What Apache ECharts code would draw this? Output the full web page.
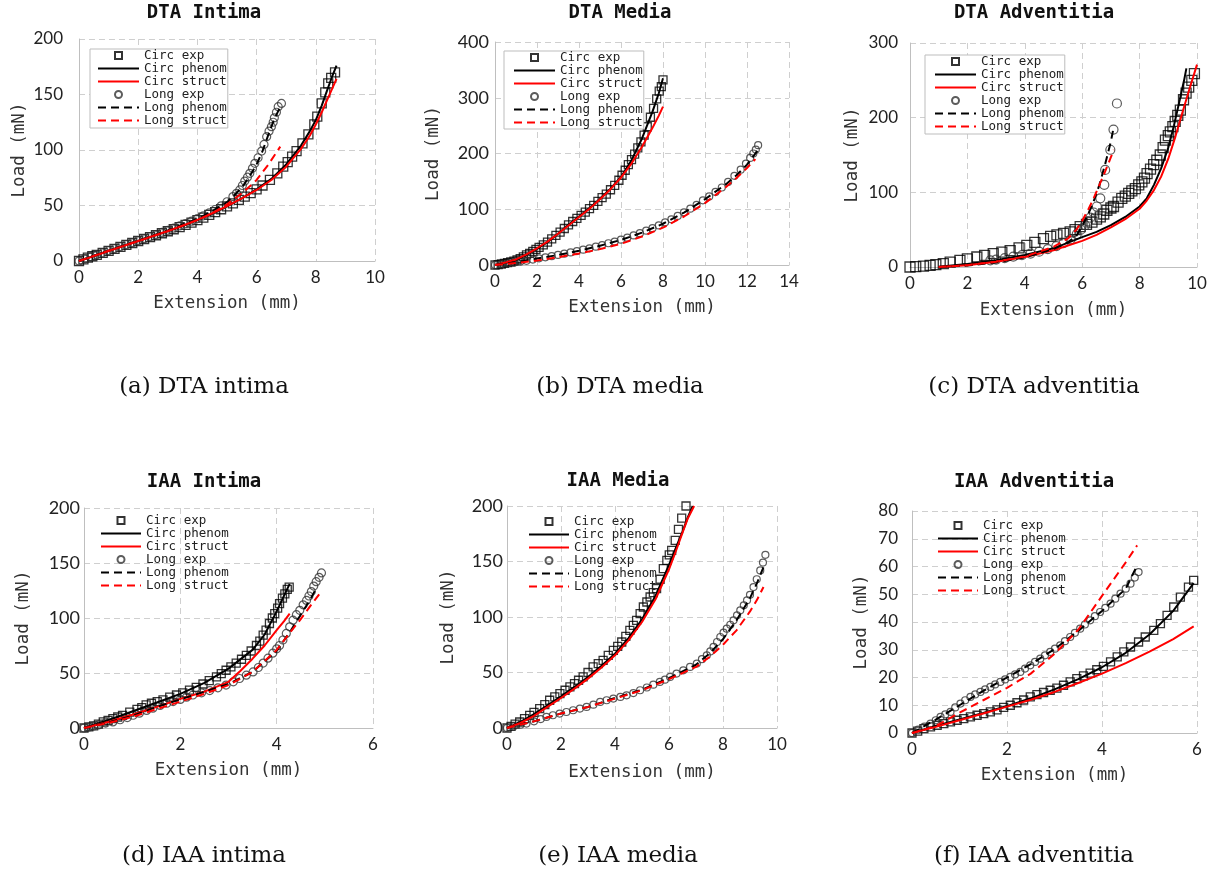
<!DOCTYPE html>
<html><head><meta charset="utf-8">
<script src="https://cdn.jsdelivr.net/npm/echarts@6/dist/echarts.min.js"></script>
<style>html,body{margin:0;padding:0;background:#fff}#c{width:1219px;height:877px}</style>
</head><body><div id="c"></div>
<script>
// ---------- DATA (Extension mm, Load mN) ----------
// (a) DTA Intima
const aCircExp = [[0,0],[0.15,1.5],[0.3,3],[0.45,4.3],[0.6,5.6],[0.8,7.4],[1.0,9.2],[1.2,11],[1.4,12.8],[1.6,14.5],[1.8,16.2],[2.0,18],[2.2,19.8],[2.4,21.5],[2.6,23.2],[2.8,25],[3.0,26.8],[3.2,28.6],[3.4,30.5],[3.6,32.5],[3.8,34.6],[4.0,36.8],[4.2,39.1],[4.4,41.5],[4.6,44],[4.8,46.6],[5.0,49.3],[5.2,52],[5.4,55],[5.6,58],[5.8,61.2],[6.0,64.5],[6.2,68],[6.45,73],[6.7,79],[6.9,85],[7.05,89],[7.2,94],[7.35,99],[7.55,106],[7.75,114],[7.95,123],[8.05,130],[8.2,142],[8.32,152],[8.42,160],[8.52,165],[8.65,170]];
const aCircPhenom = [[0,0],[0.5,4.6],[1,9.2],[1.5,13.7],[2,18],[2.5,22.4],[3,26.8],[3.5,31.5],[4,36.8],[4.5,42.7],[5,49.3],[5.5,56.5],[6,64.5],[6.5,74],[7,87],[7.5,104],[7.8,117],[8,127],[8.2,140],[8.4,155],[8.55,166],[8.7,176]];
const aCircStruct = [[0,0],[0.5,4.4],[1,9],[1.5,13.5],[2,18],[2.5,22.5],[3,27],[3.5,31.8],[4,37],[4.5,43],[5,49.5],[5.5,56.5],[6,64],[6.5,73],[7,85],[7.5,101],[7.8,113],[8,123],[8.2,134],[8.4,146],[8.55,155],[8.7,164]];
const aLongExp = [[0,0],[0.2,2],[0.4,3.8],[0.6,5.6],[0.8,7.4],[1.0,9.3],[1.2,11.1],[1.4,12.9],[1.6,14.7],[1.8,16.5],[2.0,18.3],[2.2,20.1],[2.4,22],[2.6,23.8],[2.8,25.7],[3.0,27.6],[3.2,29.6],[3.4,31.6],[3.6,33.7],[3.8,35.9],[4.0,38.2],[4.2,40.7],[4.4,43.4],[4.6,46.4],[4.8,49.7],[5.0,53.4],[5.2,58],[5.32,61],[5.43,64],[5.52,68],[5.6,72],[5.69,75.5],[5.77,79],[5.86,83.5],[5.94,88],[6.05,93],[6.17,99],[6.25,105],[6.34,112],[6.42,117],[6.5,121],[6.56,125],[6.6,129],[6.67,134],[6.73,139],[6.84,142]];
const aLongPhenom = [[0,0],[1,9.3],[2,18.3],[3,27.6],[4,38],[4.5,45],[5,53],[5.5,66],[5.8,78],[6,87],[6.2,99],[6.4,114],[6.6,128],[6.84,141]];
const aLongStruct = [[0,0],[1,9.2],[2,18],[3,27],[4,37],[4.5,43],[5,51],[5.5,61],[5.8,68],[6.0,73],[6.2,80],[6.4,87],[6.6,95],[6.8,103]];

// (b) DTA Media
const bCircExp = [[0,0],[0.15,0.8],[0.3,1.8],[0.45,3],[0.6,4.2],[0.75,5.5],[0.9,7],[1.05,9],[1.2,11.5],[1.35,14.5],[1.5,18],[1.65,21],[1.8,24.5],[1.95,28],[2.1,31.5],[2.3,36],[2.5,41],[2.7,47],[2.9,53],[3.1,59],[3.3,65.5],[3.5,72],[3.7,78],[3.9,83.5],[4.1,89],[4.3,95],[4.5,101],[4.7,107],[4.9,114],[5.1,121],[5.3,127],[5.5,135],[5.7,143],[5.9,152],[6.05,161],[6.2,170],[6.35,180],[6.5,189],[6.65,199],[6.8,210],[6.95,221],[7.1,233],[7.25,248],[7.4,265],[7.55,281],[7.7,298],[7.82,312],[7.92,320],[8.0,332]];
const bCircPhenom = [[0,0],[0.5,4],[1,9],[1.5,18],[2,29],[2.5,41],[3,56],[3.5,72],[4,87],[4.5,102],[5,119],[5.5,137],[6,158],[6.5,188],[7,227],[7.5,275],[7.8,308],[8.0,335]];
const bCircStruct = [[0,0],[0.5,4.5],[1,10],[1.5,19],[2,30],[2.5,42],[3,56],[3.5,71],[4,86],[4.5,101],[5,118],[5.5,136],[6,157],[6.5,182],[7,212],[7.5,246],[7.8,268],[8.0,284]];
const bLongExp = [[0,0],[0.3,1.2],[0.6,2.6],[0.9,4.2],[1.2,5.8],[1.5,7.5],[1.8,9.8],[2.1,12],[2.4,13.8],[2.7,15.8],[3.0,18],[3.3,20.3],[3.6,22.6],[3.9,25],[4.2,27.5],[4.5,30],[4.8,32.8],[5.1,35.8],[5.4,39],[5.7,42],[6.0,45.5],[6.3,49],[6.6,53],[6.9,57],[7.2,61.5],[7.5,66],[7.8,71],[8.1,76.5],[8.4,82],[8.7,88],[9.0,94.5],[9.3,101],[9.6,108],[9.9,116],[10.2,123],[10.5,131],[10.8,139],[11.1,149],[11.4,160],[11.7,171],[11.95,182],[12.15,192],[12.3,200],[12.42,207],[12.53,215]];
const bLongPhenom = [[0,0],[1,5],[2,11.5],[3,18],[4,25.5],[5,34.5],[6,45],[7,58],[8,74],[9,94],[10,118],[11,145],[11.5,161],[12,180],[12.5,205]];
const bLongStruct = [[0,0],[1,3.5],[2,8],[3,14],[4,20.5],[5,28.5],[6,38],[7,51],[8,67],[9,87],[10,111],[11,140],[11.5,156],[12,174],[12.4,190]];

// (c) DTA Adventitia
const cCircExp = [[0,0],[0.2,0.5],[0.47,1.3],[0.7,2.3],[0.9,3.3],[1.16,4.5],[1.4,6.5],[1.74,9],[2.0,10.8],[2.33,13.4],[2.6,15.5],[2.9,18],[3.2,20],[3.49,22],[3.8,25.5],[4.07,29],[4.35,33],[4.65,38],[4.9,41],[5.12,43],[5.35,45],[5.58,47],[5.75,50],[5.93,54],[6.15,57],[6.34,60],[6.5,64],[6.63,67],[6.75,71],[6.86,76],[7.0,79],[7.09,81],[7.25,87],[7.38,92],[7.5,95],[7.62,98.5],[7.73,102],[7.85,105],[7.97,110],[8.08,114],[8.17,119],[8.26,125],[8.38,131],[8.49,137],[8.6,143],[8.72,150],[8.82,160],[8.9,170],[9.0,176],[9.07,181],[9.16,188],[9.24,195],[9.33,203],[9.42,210],[9.53,224],[9.62,233],[9.71,241],[9.82,250],[9.91,259]];
const cCircPhenom = [[1,0.5],[2,4],[3,9],[4,16],[5,25],[6,40],[6.5,47],[7,56],[7.5,67],[8,81],[8.25,92],[8.5,110],[8.75,132],[9.0,160],[9.2,190],[9.4,224],[9.55,250],[9.63,266]];
const cCircStruct = [[1,0],[2,2.5],[3,7],[4,13.5],[5,22.5],[6,35],[6.5,43],[7,53],[7.5,64],[8,78],[8.25,89],[8.5,103],[8.75,121],[9.0,145],[9.25,175],[9.5,208],[9.75,240],[10.0,271]];
const cLongExp = [[2.8,9],[3.0,10],[3.3,12],[3.6,14],[3.9,16],[4.2,18],[4.5,20.5],[4.8,24],[5.1,28],[5.35,32],[5.6,37],[5.81,44],[5.95,50],[6.1,56],[6.2,61],[6.28,66],[6.4,73],[6.51,81],[6.63,92],[6.77,110],[6.8,130],[6.98,157],[7.09,184],[7.21,219]];
const cLongPhenom = [[1,0],[2,2],[3,6],[4,13],[5,24],[5.5,33],[5.8,42],[6.0,55],[6.2,70],[6.4,88],[6.6,110],[6.8,138],[7.0,168],[7.1,188]];
const cLongStruct = [[1,0],[2,2.5],[3,7],[4,14],[5,27],[5.5,38],[5.8,50],[6.0,62],[6.2,76],[6.4,92],[6.6,110],[6.8,128],[7.0,147],[7.1,157]];

// (d) IAA Intima
const dCircExp = [[0,0],[0.1,1],[0.2,2],[0.3,3.5],[0.4,5.5],[0.5,7],[0.6,8.5],[0.7,10],[0.8,11.5],[0.95,14.5],[1.1,17],[1.2,18.5],[1.29,21],[1.4,22.5],[1.52,24],[1.64,25.5],[1.78,28],[1.92,30],[2.05,32],[2.19,34.5],[2.33,37],[2.47,40],[2.6,43],[2.75,46.5],[2.85,49.5],[2.95,52.5],[3.05,55.5],[3.16,59],[3.27,62.5],[3.37,66],[3.47,70],[3.58,75],[3.65,79],[3.72,84.5],[3.78,89],[3.85,95],[3.91,100],[3.96,104],[4.02,109],[4.06,113],[4.12,118],[4.17,122],[4.22,126],[4.26,128]];
const dCircPhenom = [[0,0],[0.5,7],[1,15],[1.5,23],[2,31],[2.5,41],[3,54],[3.5,71],[3.75,85],[4.0,106],[4.15,120],[4.27,131]];
const dCircStruct = [[0,0],[0.5,5.5],[1,12],[1.5,19],[2,26.5],[2.5,33],[3,42],[3.25,52],[3.5,63],[3.75,75],[4.0,89],[4.15,97],[4.27,104]];
const dLongExp = [[0,0],[0.1,0.8],[0.2,1.8],[0.3,2.8],[0.45,4.5],[0.6,5.5],[0.75,7.5],[0.9,9.5],[1.02,11.6],[1.15,13.5],[1.3,16],[1.43,18],[1.58,20.5],[1.72,22.5],[1.85,24],[2.0,26],[2.13,28],[2.26,30],[2.44,32],[2.61,34],[2.78,36.5],[2.95,39],[3.1,42],[3.23,45],[3.37,48],[3.51,51],[3.62,55],[3.72,59],[3.82,63.5],[3.92,68],[4.0,72],[4.06,75],[4.13,80],[4.2,86],[4.27,92],[4.34,98],[4.41,103],[4.48,107],[4.55,112],[4.62,116],[4.67,120],[4.72,124],[4.77,129],[4.82,133],[4.88,137],[4.93,141]];
const dLongPhenom = [[0,0],[0.5,5],[1,11],[1.5,19],[2,26],[2.5,33],[3,40],[3.5,51],[4,70],[4.3,89],[4.5,103],[4.7,117],[4.82,127]];
const dLongStruct = [[0,0],[0.5,4.5],[1,10],[1.5,17],[2,24],[2.5,31],[3,39],[3.5,51],[4,71],[4.3,88],[4.5,99],[4.7,111],[4.89,122]];

// (e) IAA Media
const eCircExp = [[0,0],[0.15,1.5],[0.3,3.5],[0.47,5.4],[0.65,8.4],[0.84,11.4],[1.0,14],[1.21,17.4],[1.4,21],[1.58,25],[1.77,28],[1.96,31],[2.15,34],[2.33,37],[2.5,40],[2.65,43],[2.82,46],[3.0,50],[3.19,55],[3.38,58],[3.56,61],[3.75,65.5],[3.94,70],[4.1,73.5],[4.25,77.5],[4.4,82.5],[4.55,88],[4.68,92.5],[4.8,97],[4.93,103],[5.05,109],[5.18,113.5],[5.3,118],[5.42,122],[5.54,125.5],[5.67,134],[5.79,143.5],[5.92,151],[6.01,156],[6.1,160],[6.23,169],[6.35,179],[6.47,189],[6.63,200]];
const eCircPhenom = [[0,0],[0.5,5.5],[1,12.5],[1.5,20.5],[2,28.5],[2.5,37],[3,46],[3.5,56],[4,67],[4.5,81],[5,98],[5.5,119],[6,147],[6.25,162],[6.5,177],[6.7,190],[6.88,200]];
const eCircStruct = [[0,0],[0.5,4.5],[1,11],[1.5,19],[2,27],[2.5,35.5],[3,44.5],[3.5,54.5],[4,65.5],[4.5,79],[5,95.5],[5.5,116],[6,143],[6.25,159],[6.5,176],[6.7,189],[6.93,200]];
const eLongExp = [[0,0],[0.25,1.5],[0.5,3],[0.72,4],[1.0,6],[1.25,8],[1.46,10],[1.7,11.5],[1.95,13],[2.2,14.4],[2.45,16],[2.7,17.5],[2.95,19],[3.2,21],[3.45,23.5],[3.69,25],[3.94,26.5],[4.2,28],[4.43,29.4],[4.68,31.5],[4.93,34],[5.18,36.5],[5.42,39],[5.66,41.5],[5.85,43.5],[6.04,46],[6.28,49],[6.53,52],[6.78,55],[7.03,58],[7.22,62],[7.4,65.5],[7.53,69],[7.65,73],[7.78,77.5],[7.9,82],[8.02,86],[8.14,89.5],[8.27,93],[8.39,97],[8.52,101.5],[8.64,106],[8.77,110.5],[8.89,115],[9.0,120],[9.13,127],[9.25,134],[9.38,142],[9.48,149],[9.57,156]];
const eLongPhenom = [[0,0],[1,6],[2,13],[3,19],[4,27],[5,34.5],[6,45],[6.5,51],[7,57],[7.5,67],[8,80],[8.5,97],[9,117],[9.25,130],[9.5,145]];
const eLongStruct = [[0,0],[1,6],[2,13],[3,19],[4,26.5],[5,34],[6,44],[6.5,49.5],[7,55],[7.5,64],[8,75],[8.5,88],[9,105],[9.25,115],[9.5,127]];

// (f) IAA Adventitia
const fCircExp = [[0,0],[0.12,0.7],[0.25,1.6],[0.39,2.2],[0.53,2.8],[0.67,3.4],[0.81,4],[0.95,4.6],[1.09,5.2],[1.23,5.8],[1.37,6.4],[1.51,7],[1.65,7.6],[1.79,8.3],[1.93,9.2],[2.07,10],[2.21,10.9],[2.35,11.9],[2.49,13],[2.63,13.8],[2.77,14.6],[2.91,15.4],[3.05,16.2],[3.19,17.2],[3.33,18.4],[3.47,19.6],[3.61,20.6],[3.75,21.6],[3.89,22.8],[4.03,24],[4.18,25.6],[4.32,27.4],[4.46,29.2],[4.6,31],[4.77,32.8],[4.91,34.6],[5.09,37],[5.23,39.4],[5.37,42.4],[5.51,45.4],[5.65,49],[5.82,52.6],[5.93,55]];
const fCircPhenom = [[0,0],[0.5,2.5],[1,4.9],[1.5,7.2],[2,9.7],[2.5,12.5],[3,15.7],[3.5,19.4],[4,23.7],[4.5,28.9],[5,35.5],[5.5,44],[5.93,54]];
const fCircStruct = [[0,0],[0.5,2.2],[1,4.6],[1.5,7],[2,9.5],[2.5,12],[3,14.8],[3.5,18],[4,21.4],[4.5,25.2],[5,29.3],[5.5,33.8],[5.93,38.4]];
const fLongExp = [[0,0],[0.13,1.2],[0.26,2.3],[0.39,3.4],[0.5,4.6],[0.6,5.8],[0.7,6.7],[0.81,7.6],[0.91,9.2],[1.02,10.6],[1.12,11.8],[1.23,13],[1.33,13.9],[1.44,14.8],[1.54,15.7],[1.65,16.6],[1.75,17.5],[1.86,18.4],[1.96,19.3],[2.07,20.2],[2.17,21.1],[2.28,22],[2.38,23.2],[2.49,24.4],[2.59,25.6],[2.7,26.8],[2.8,28],[2.91,29.2],[3.01,30.4],[3.12,31.6],[3.22,33.1],[3.33,34.6],[3.43,36.1],[3.54,37.6],[3.64,39.1],[3.75,40.6],[3.85,42.1],[3.96,43.6],[4.07,45.1],[4.18,46.6],[4.28,48.4],[4.39,50.2],[4.5,52],[4.6,53.8],[4.69,56],[4.77,58]];
const fLongPhenom = [[0,0],[0.5,4.8],[1,10],[1.5,15.2],[2,20],[2.5,24.8],[3,30.2],[3.5,36.8],[4,44],[4.5,52],[4.74,60.4]];
const fLongStruct = [[0,0],[0.5,2.5],[1,7.3],[1.5,11.8],[2,16.3],[2.5,21.4],[3,28.5],[3.5,37.2],[4,49.4],[4.5,61.5],[4.74,67.6]];

const seriesNames = ['Circ exp','Circ phenom','Circ struct','Long exp','Long phenom','Long struct'];
const panelTitles = ['DTA Intima','DTA Media','DTA Adventitia','IAA Intima','IAA Media','IAA Adventitia'];
const panelCaptions = ['(a) DTA intima','(b) DTA media','(c) DTA adventitia','(d) IAA intima','(e) IAA media','(f) IAA adventitia'];
const xMaxes = [10,14,10,6,10,6];
const yMaxes = [200,400,300,200,200,80];
const yIntervals = [50,100,100,50,50,10];
const panelData = [
  [aCircExp,aCircPhenom,aCircStruct,aLongExp,aLongPhenom,aLongStruct],
  [bCircExp,bCircPhenom,bCircStruct,bLongExp,bLongPhenom,bLongStruct],
  [cCircExp,cCircPhenom,cCircStruct,cLongExp,cLongPhenom,cLongStruct],
  [dCircExp,dCircPhenom,dCircStruct,dLongExp,dLongPhenom,dLongStruct],
  [eCircExp,eCircPhenom,eCircStruct,eLongExp,eLongPhenom,eLongStruct],
  [fCircExp,fCircPhenom,fCircStruct,fLongExp,fLongPhenom,fLongStruct]
];

// ---------- LAYOUT ----------
const layout = [
  {grid:{left:79,top:39,width:296,height:222}, tx:204, ty:13, cy:387, yGap:51, xGap:33, yLM:16, yLS:17, sq:9, ci:8,
   lg:{left:90,top:49,lh:12,box:true,iw:41,pad:[0,1,1,7]}},
  {grid:{left:495,top:42,width:294,height:223}, tx:620, ty:13, cy:387, yGap:53, xGap:33, yLM:6, yLS:18, sq:8, ci:7,
   lg:{left:504,top:51,lh:11,box:true,iw:41,pad:[0,1,0,9]}},
  {grid:{left:910,top:43,width:287,height:224}, tx:1034, ty:13, cy:387, yGap:49, xGap:34, yLM:12, yLS:17, sq:10, ci:9,
   lg:{left:925,top:55,lh:12,box:true,iw:41,pad:[0,1,1,9]}},
  {grid:{left:84,top:508,width:289,height:220}, tx:204, ty:482, cy:856, yGap:52, xGap:33, yLM:4, yLS:18, sq:8, ci:8,
   lg:{left:100,top:514,lh:11.3,box:false,iw:40,pad:[0,0,0,0]}},
  {grid:{left:507,top:506,width:270,height:222}, tx:618, ty:481, cy:856, yGap:50, xGap:35, yLM:4, yLS:18, sq:8, ci:7,
   lg:{left:528,top:515,lh:11.15,box:false,iw:40,pad:[0,0,0,0]}},
  {grid:{left:912,top:511,width:285,height:222}, tx:1034, ty:482, cy:856, yGap:42, xGap:33, yLM:14, yLS:17, sq:8, ci:7,
   lg:{left:937,top:519,lh:12.4,box:false,iw:40,pad:[0,0,0,0]}}
];

const MONO = '"DejaVu Sans Mono", "Liberation Mono", monospace';
const SQUARE = 'path://M0,0L10,0L10,10L0,10Z';
const CLEAR = 'rgba(255,255,255,0)';
const splitStyle = {color:'#cfcfcf', width:1, type:[6,4]};
const grids=[], xAxes=[], yAxes=[], series=[], legends=[], graphics=[];

layout.forEach((L, i) => {
  grids.push(Object.assign({outerBoundsMode:'none', containLabel:false}, L.grid));
  xAxes.push({
    type:'value', gridIndex:i, min:0, max:xMaxes[i], interval:2,
    name:'Extension (mm)', nameLocation:'middle', nameGap:L.xGap,
    nameTextStyle:{fontFamily:MONO, fontSize:17.5, color:'#333'},
    axisLine:{show:true, onZero:false, lineStyle:{color:'#bfbfbf', width:1}},
    axisTick:{show:false},
    axisLabel:{margin:8, fontFamily:'Lato, "Open Sans", sans-serif', fontSize:17, color:'#222'},
    splitLine:{show:true, lineStyle:splitStyle}
  });
  yAxes.push({
    type:'value', gridIndex:i, min:0, max:yMaxes[i], interval:yIntervals[i],
    name:'Load (mN)', nameLocation:'middle', nameGap:L.yGap,
    nameTextStyle:{fontFamily:MONO, fontSize:17.5, color:'#333'},
    axisLine:{show:true, onZero:false, lineStyle:{color:'#bfbfbf', width:1}},
    axisTick:{show:false},
    axisLabel:{margin:L.yLM, fontFamily:'Lato, "Open Sans", sans-serif', fontSize:L.yLS, color:'#222'},
    splitLine:{show:true, lineStyle:splitStyle}
  });
  const d = panelData[i];
  const common = {xAxisIndex:i, yAxisIndex:i, silent:true, animation:false};
  series.push(Object.assign({type:'scatter', name:seriesNames[0], data:d[0], symbol:SQUARE, symbolSize:L.sq, symbolKeepAspect:true,
    itemStyle:{color:CLEAR, borderColor:'#000', borderWidth:1.3}}, common));
  series.push(Object.assign({type:'line', name:seriesNames[1], data:d[1], symbol:'none', showSymbol:false,
    lineStyle:{color:'#000', width:2}, itemStyle:{color:CLEAR, borderWidth:0}}, common));
  series.push(Object.assign({type:'line', name:seriesNames[2], data:d[2], symbol:'none', showSymbol:false,
    lineStyle:{color:'#ff0000', width:2}, itemStyle:{color:CLEAR, borderWidth:0}}, common));
  series.push(Object.assign({type:'scatter', name:seriesNames[3], data:d[3], symbol:'circle', symbolSize:L.ci,
    itemStyle:{color:CLEAR, borderColor:'#333', borderWidth:1.2}}, common));
  series.push(Object.assign({type:'line', name:seriesNames[4], data:d[4], symbol:'none', showSymbol:false,
    lineStyle:{color:'#000', width:2, type:[8,5]}, itemStyle:{color:CLEAR, borderWidth:0}}, common));
  series.push(Object.assign({type:'line', name:seriesNames[5], data:d[5], symbol:'none', showSymbol:false,
    lineStyle:{color:'#ff0000', width:2, type:[8,5]}, itemStyle:{color:CLEAR, borderWidth:0}}, common));

  legends.push({
    show:true, orient:'vertical', left:L.lg.left, top:L.lg.top, data:seriesNames.slice(),
    itemWidth:L.lg.iw, itemHeight:7, itemGap:0, padding:L.lg.pad,
    borderColor:L.lg.box ? '#bdbdbd' : 'transparent', borderWidth:L.lg.box ? 1 : 0,
    backgroundColor:L.lg.box ? '#fff' : 'transparent',
    selectedMode:false, symbolKeepAspect:true,
    textStyle:{fontFamily:MONO, fontSize:12.5, lineHeight:L.lg.lh, color:'#222'}
  });

  graphics.push({type:'text', x:L.tx, y:L.ty, silent:true,
    style:{text:panelTitles[i], font:'bold 19px ' + MONO, fill:'#111', textAlign:'center', textVerticalAlign:'middle'}});
  graphics.push({type:'text', x:L.tx, y:L.cy, silent:true,
    style:{text:panelCaptions[i], font:'23px "DejaVu Serif", serif', fill:'#111', textAlign:'center', textVerticalAlign:'middle'}});
});

const chart = echarts.init(document.getElementById('c'), null, {renderer:'canvas'});
chart.setOption({
  animation:false,
  backgroundColor:'#fff',
  grid:grids, xAxis:xAxes, yAxis:yAxes, series:series, legend:legends,
  graphic:{elements:graphics}
});
</script></body></html>
